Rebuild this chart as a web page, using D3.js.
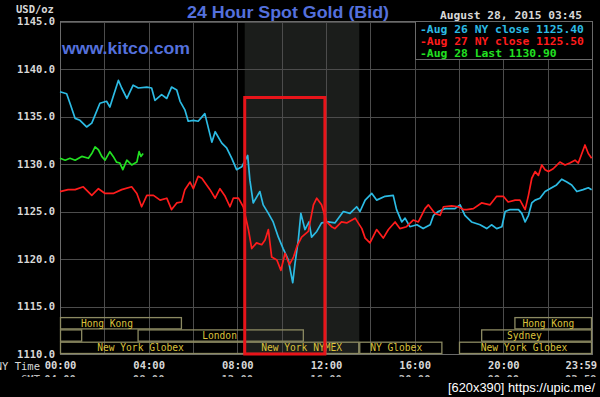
<!DOCTYPE html>
<html>
<head>
<meta charset="utf-8">
<script src="https://cdn.jsdelivr.net/npm/d3@7"></script>
<style>
  html, body { margin: 0; padding: 0; background: #000; }
  svg { display: block; }
</style>
</head>
<body>
<div id="chart"></div>
<script>
// minutes after NY midnight, bid price (USD/oz)
var aug26Min = [0, 18, 27, 41, 54, 72, 86, 108, 126, 135, 144, 158, 167, 181, 198, 212, 235, 248, 257, 275, 289, 302, 316, 325, 338, 347, 361, 374, 392, 411, 420, 438, 451, 465, 478, 492, 508, 514, 523, 541, 550, 564, 577, 591, 604, 618, 630, 636, 645, 652, 663, 674, 681, 695, 708, 726, 744, 767, 785, 803, 812, 826, 844, 857, 880, 902, 911, 925, 934, 947, 966, 983, 1002, 1011, 1024, 1042, 1069, 1083, 1096, 1114, 1137, 1155, 1168, 1182, 1196, 1205, 1218, 1241, 1250, 1259, 1268, 1277, 1286, 1299, 1313, 1326, 1344, 1358, 1372, 1385, 1399, 1416, 1430, 1439];
var aug26Bid = [1137.6, 1137.4, 1136.4, 1134.8, 1134.6, 1133.9, 1134.3, 1136.4, 1136.6, 1136.0, 1137.1, 1138.8, 1138.0, 1136.9, 1138.3, 1138.0, 1138.1, 1138.0, 1136.7, 1137.3, 1136.9, 1138.1, 1137.8, 1136.6, 1135.7, 1134.5, 1134.6, 1134.5, 1135.3, 1132.3, 1133.4, 1132.2, 1131.7, 1130.6, 1129.4, 1129.7, 1130.9, 1128.3, 1125.9, 1127.1, 1125.7, 1124.8, 1123.9, 1122.3, 1121.1, 1119.9, 1117.5, 1119.5, 1122.0, 1124.8, 1123.1, 1123.9, 1122.3, 1122.9, 1123.8, 1123.9, 1123.8, 1125.0, 1124.8, 1125.5, 1125.0, 1126.2, 1126.9, 1126.2, 1126.6, 1126.7, 1125.2, 1123.9, 1124.3, 1123.4, 1123.6, 1123.2, 1123.6, 1124.6, 1125.0, 1125.3, 1125.3, 1125.7, 1124.6, 1123.9, 1123.6, 1123.2, 1123.6, 1123.2, 1123.4, 1125.0, 1125.2, 1125.2, 1124.8, 1123.9, 1124.6, 1125.9, 1126.2, 1126.4, 1127.1, 1127.4, 1127.8, 1128.4, 1128.1, 1127.8, 1127.1, 1127.3, 1127.5, 1127.3];

var aug27Min = [0, 22, 41, 63, 86, 104, 122, 144, 167, 194, 208, 221, 235, 253, 271, 289, 302, 316, 329, 338, 352, 361, 374, 384, 406, 420, 433, 447, 460, 469, 483, 496, 510, 519, 532, 546, 555, 564, 573, 587, 598, 609, 621, 632, 641, 654, 672, 686, 695, 708, 722, 735, 744, 762, 776, 799, 817, 826, 839, 857, 875, 889, 907, 920, 938, 956, 970, 988, 997, 1015, 1029, 1038, 1060, 1078, 1092, 1101, 1119, 1141, 1164, 1182, 1200, 1213, 1232, 1245, 1259, 1268, 1277, 1286, 1295, 1304, 1313, 1322, 1335, 1353, 1367, 1380, 1394, 1403, 1421, 1430, 1439];
var aug27Bid = [1127.1, 1127.3, 1127.3, 1127.6, 1126.7, 1127.4, 1126.9, 1126.9, 1127.3, 1127.6, 1126.9, 1125.5, 1126.7, 1126.7, 1126.2, 1126.4, 1125.2, 1125.9, 1126.0, 1127.3, 1128.1, 1127.4, 1128.7, 1128.5, 1127.3, 1126.4, 1127.4, 1126.6, 1125.5, 1126.4, 1126.4, 1125.5, 1123.1, 1121.1, 1121.7, 1121.5, 1122.0, 1123.1, 1120.2, 1119.9, 1118.8, 1120.6, 1119.4, 1120.2, 1121.3, 1122.3, 1122.9, 1125.7, 1126.4, 1125.7, 1123.9, 1123.4, 1123.2, 1123.9, 1123.8, 1124.3, 1123.2, 1122.2, 1121.7, 1123.1, 1122.2, 1123.1, 1123.9, 1123.2, 1123.4, 1124.1, 1123.9, 1125.3, 1125.7, 1124.8, 1124.6, 1125.5, 1125.6, 1125.5, 1125.2, 1125.2, 1125.3, 1125.9, 1125.7, 1126.6, 1126.6, 1126.0, 1126.2, 1126.2, 1125.2, 1126.7, 1128.5, 1129.2, 1128.8, 1129.9, 1129.4, 1129.2, 1129.5, 1130.2, 1129.9, 1130.1, 1130.4, 1130.1, 1132.0, 1131.1, 1130.6];

var aug28Min = [0, 14, 27, 41, 59, 77, 86, 95, 104, 113, 122, 135, 144, 153, 162, 170, 181, 194, 208, 214, 219, 225];
var aug28Bid = [1130.6, 1130.4, 1130.6, 1130.4, 1130.8, 1130.6, 1131.1, 1131.8, 1131.5, 1130.8, 1130.4, 1131.3, 1130.8, 1130.2, 1130.1, 1129.4, 1130.4, 1129.9, 1130.2, 1131.3, 1130.8, 1131.1];

var legendLabels = ["-Aug 26 NY close 1125.40", "-Aug 27 NY close 1125.50", "-Aug 28 Last 1130.90"];

var priceTicks = [1110, 1115, 1120, 1125, 1130, 1135, 1140, 1145];
var timeTicks = [0, 240, 480, 720, 960, 1200, 1439];
var nyTimeLabels = ["00:00", "04:00", "08:00", "12:00", "16:00", "20:00", "23:59"];
var gmtTimeLabels = ["04:00", "08:00", "12:00", "16:00", "20:00", "00:00", "03:59"];

// trading sessions drawn along the bottom (row 0 = top)
var sessionLabels = ["Hong Kong", "", "London", "New York Globex", "New York NYMEX", "NY Globex", "New York Globex", "Sydney", "Hong Kong"];
var sessionRow = [0, 1, 1, 2, 2, 2, 2, 1, 0];
var sessionStart = [0, 0, 210, 0, 500, 810, 1080, 1140, 1230];
var sessionEnd = [330, 60, 660, 500, 810, 1035, 1440, 1440, 1440];
var sessionLabelAt = [127, 0, 432, 218, 654, 910, 1256, 1257, 1322];

// NY floor hours shading and the red highlight box
var nyFloor = [500, 810];
var highlightMin = [500, 717];
var highlightPrice = [1110, 1137];

var width = 600, height = 397;
var mono = "'DejaVu Sans Mono', monospace";
var sans = "'Liberation Sans', Arial, sans-serif";
var blue = "#5470dc";
var gridColor = "#4c4c4c";
var tickText = "#d8d8d8";
var seriesColors = ["#2cbbe4", "#ff1c1c", "#22e022"];

var svg = d3.select("#chart").append("svg")
  .attr("width", width)
  .attr("height", height)
  .style("background", "#000");

var x = d3.scaleLinear().domain([0, 1440]).range([60, 592]);
var y = d3.scaleLinear().domain([1110, 1145]).range([354, 21.5]);

// shaded NY hours
svg.append("rect")
  .attr("x", x(nyFloor[0]))
  .attr("y", y(1145))
  .attr("width", x(nyFloor[1]) - x(nyFloor[0]))
  .attr("height", y(1110) - y(1145))
  .attr("fill", "#1b1d1b");

// grid
var xGrid = svg.append("g")
  .attr("transform", "translate(0," + y(1110) + ")")
  .call(d3.axisBottom(x).tickValues(d3.range(0, 1441, 120)).tickSize(-(y(1110) - y(1145))).tickFormat(""));
var yGrid = svg.append("g")
  .attr("transform", "translate(" + x(0) + ",0)")
  .call(d3.axisLeft(y).tickValues(priceTicks).tickSize(-(x(1440) - x(0))).tickFormat(""));
[xGrid, yGrid].forEach(function(g){
  g.select(".domain").remove();
  g.selectAll("line").attr("stroke", gridColor).attr("stroke-width", 1).attr("shape-rendering", "crispEdges");
});

svg.append("rect")
  .attr("x", x(0)).attr("y", y(1145))
  .attr("width", x(1440) - x(0)).attr("height", y(1110) - y(1145))
  .attr("fill", "none").attr("stroke", "#6a6a6a").attr("shape-rendering", "crispEdges");

// axes labels
var yAxis = svg.append("g")
  .attr("transform", "translate(" + x(0) + ",0)")
  .call(d3.axisLeft(y).tickValues(priceTicks).tickSize(0).tickPadding(5).tickFormat(d3.format(".1f")));
var xAxis = svg.append("g")
  .attr("transform", "translate(0," + y(1110) + ")")
  .call(d3.axisBottom(x).tickValues(timeTicks).tickSize(0).tickPadding(8).tickFormat(function(d, i){ return nyTimeLabels[i]; }));
[xAxis, yAxis].forEach(function(g){
  g.select(".domain").remove();
  g.selectAll("text").attr("fill", tickText).style("font-family", mono).style("font-weight", "bold").style("font-size", "10.5px");
});
// last label sits flush with the right edge
xAxis.selectAll(".tick:last-of-type text").attr("text-anchor", "end").attr("x", 5);

// GMT row, cut off by the bottom of the image
svg.append("clipPath").attr("id", "gmtclip")
  .append("rect").attr("x", 0).attr("y", 360).attr("width", width).attr("height", 17);
var gmt = svg.append("g").attr("clip-path", "url(#gmtclip)");
gmt.selectAll("text").data(timeTicks).enter().append("text")
  .attr("x", function(d, i){ return i == timeTicks.length - 1 ? x(d) + 5 : x(d); })
  .attr("y", 383)
  .attr("text-anchor", function(d, i){ return i == timeTicks.length - 1 ? "end" : "middle"; })
  .attr("fill", "#bbb")
  .style("font-family", mono).style("font-weight", "bold").style("font-size", "10.5px")
  .text(function(d, i){ return gmtTimeLabels[i]; });
gmt.append("text").attr("x", 40).attr("y", 383).attr("text-anchor", "end")
  .attr("fill", "#bbb").style("font-family", mono).style("font-size", "10.5px").text("GMT");

svg.append("text").attr("x", 40).attr("y", 369.5).attr("text-anchor", "end")
  .attr("fill", tickText).style("font-family", mono).style("font-size", "10.5px").text("NY Time");

// sessions
var rowH = 12.3;
var sessions = svg.append("g");
sessionLabels.forEach(function(label, i){
  var top = y(1110) - (3 - sessionRow[i]) * rowH;
  sessions.append("rect")
    .attr("x", x(sessionStart[i]) + 0.5)
    .attr("y", top + 0.5)
    .attr("width", x(sessionEnd[i]) - x(sessionStart[i]) - 1)
    .attr("height", rowH - 1)
    .attr("fill", "none")
    .attr("stroke", "#8c8a62")
    .attr("stroke-width", 1.3);
  if (label) {
    sessions.append("text")
      .attr("x", x(sessionLabelAt[i]))
      .attr("y", top + rowH / 2 + 3.6)
      .attr("text-anchor", "middle")
      .attr("fill", "#dcc23c")
      .style("font-family", mono).style("font-size", "9.6px")
      .text(label);
  }
});

// price lines
var line = d3.line()
  .x(function(d){ return x(d[0]); })
  .y(function(d){ return y(d[1]); });
[[aug26Min, aug26Bid], [aug27Min, aug27Bid], [aug28Min, aug28Bid]].forEach(function(s, i){
  svg.append("path")
    .datum(d3.zip(s[0], s[1]))
    .attr("d", line)
    .attr("fill", "none")
    .attr("stroke", seriesColors[i])
    .attr("stroke-width", 1.7)
    .attr("stroke-linejoin", "round");
});

// red highlight box
svg.append("rect")
  .attr("x", x(highlightMin[0]))
  .attr("y", y(highlightPrice[1]))
  .attr("width", x(highlightMin[1]) - x(highlightMin[0]))
  .attr("height", y(highlightPrice[0]) - y(highlightPrice[1]))
  .attr("fill", "none")
  .attr("stroke", "#e8141a")
  .attr("stroke-width", 3);

// legend
svg.append("rect")
  .attr("x", 415.5).attr("y", y(1145))
  .attr("width", x(1440) - 415.5).attr("height", 38)
  .attr("fill", "#000").attr("stroke", "#6a6a6a").attr("shape-rendering", "crispEdges");
legendLabels.forEach(function(t, i){
  svg.append("text")
    .attr("x", 420).attr("y", 33 + i * 11.8)
    .attr("fill", seriesColors[i])
    .attr("textLength", t.length * 6.83).attr("lengthAdjust", "spacingAndGlyphs")
    .style("font-family", mono).style("font-weight", "bold").style("font-size", "11px")
    .text(t);
});

// header texts
svg.append("text").attr("x", 288).attr("y", 17.5).attr("text-anchor", "middle")
  .attr("fill", blue).style("font-family", sans).style("font-weight", "bold").style("font-size", "17px")
  .attr("textLength", 202).attr("lengthAdjust", "spacingAndGlyphs")
  .text("24 Hour Spot Gold (Bid)");
svg.append("text").attr("x", 62).attr("y", 54).attr("fill", blue)
  .style("font-family", sans).style("font-weight", "bold").style("font-size", "17px")
  .attr("textLength", 128).attr("lengthAdjust", "spacingAndGlyphs")
  .text("www.kitco.com");
svg.append("text").attr("x", 16).attr("y", 13).attr("fill", tickText)
  .style("font-family", mono).style("font-weight", "bold").style("font-size", "10.5px")
  .text("USD/oz");
svg.append("text").attr("x", 440).attr("y", 19).attr("fill", tickText)
  .attr("textLength", 142).attr("lengthAdjust", "spacingAndGlyphs")
  .style("font-family", mono).style("font-weight", "bold").style("font-size", "11px")
  .text("August 28, 2015 03:45");

// watermark
svg.append("text").attr("x", 448).attr("y", 392).attr("fill", "#fff")
  .attr("textLength", 147).attr("lengthAdjust", "spacingAndGlyphs")
  .style("font-family", sans).style("font-size", "13px")
  .text("[620x390] https://upic.me/");
</script>
</body>
</html>
